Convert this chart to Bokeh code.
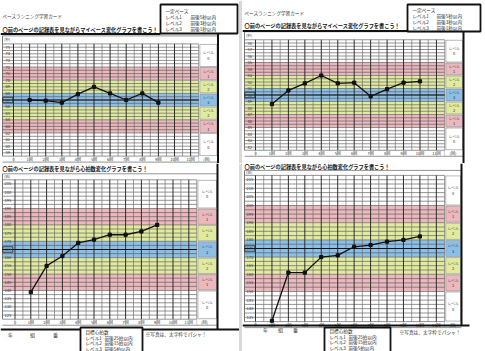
from bokeh.plotting import figure
from bokeh.layouts import row, column
from bokeh.models import Range1d
from bokeh.core.properties import value
from bokeh.embed import file_html
from bokeh.resources import INLINE

FONT = "Noto Sans CJK JP"

# ---------------- data ----------------
x_tick_labels = ["0", "1回", "2回", "3回", "4回", "5回", "6回", "7回", "8回", "9回", "10回", "11回", "(回)"]
x_tick_pos = [0, 1, 2, 3, 4, 5, 6, 7, 8, 9, 10, 11, 12]
level_names = ["0", "1", "2", "3", "2", "1", "0"]

page_title = "ペースランニング学習カード"
pace_heading = "〇前のページの記録表を見ながらマイペース変化グラフを書こう！"
hr_heading = "〇前のページの記録表を見ながら心拍数変化グラフを書こう！"
pace_box_lines = ["一定ペース", "レベル1　前後5秒以内", "レベル2　前後3秒以内", "レベル3　前後1秒以内"]
hr_box_lines = ["目標心拍数", "レベル1　前後25拍以内", "レベル2　前後15拍以内", "レベル3　前後5拍以内"]
name_fields = ["年", "組", "番"]
photo_note = "※写真は、太字枠でパシャ！"

pace_levels = [1, 3, 5]      # ± seconds (level 3, 2, 1)
hr_levels = [5, 15, 25]      # ± beats  (level 3, 2, 1)

# left sheet – pace (seconds per lap)
pace_rounds_left = [1, 2, 3, 4, 5, 6, 7, 8, 9]
pace_left = [67.0, 66.9, 66.6, 67.9, 69.0, 68.0, 67.0, 68.0, 66.6]
pace_target_left = 67
pace_ticks_left = [59, 60, 61, 62, 63, 64, 65, 66, 67, 68, 69, 70, 71, 72, 73, 74, 75]

# right sheet – pace
pace_rounds_right = [1, 2, 3, 4, 5, 6, 7, 8, 9, 10]
pace_right = [48.6, 50.7, 51.8, 53.0, 51.8, 51.9, 49.8, 50.9, 51.9, 52.1]
pace_target_right = 50
pace_ticks_right = [42, 43, 44, 45, 46, 47, 48, 49, 50, 51, 52, 53, 54, 55, 56, 57, 58]

# left sheet – heart rate (beats)
hr_rounds_left = [1, 2, 3, 4, 5, 6, 7, 8, 9]
hr_left = [139, 155, 161, 169, 171, 174, 174, 176, 180]
hr_target_left = 165
hr_ticks_left = [125, 130, 135, 140, 145, 150, 155, 160, 165, 170, 175, 180, 185, 190, 195, 200, 205]

# right sheet – heart rate
hr_rounds_right = [1, 2, 3, 4, 5, 6, 7, 8, 9, 10]
hr_right = [133, 161, 161, 170, 171, 176, 177, 179, 180, 182]
hr_target_right = 175
hr_ticks_right = [135, 140, 145, 150, 155, 160, 165, 170, 175, 180, 185, 190, 195, 200, 205, 210, 215]

PINK = "#eab8bd"
YELLOW = "#e1eb9f"
BLUE = "#8cbfe6"
band_colors = ["white", PINK, YELLOW, BLUE, YELLOW, PINK, "white"]
ROWS = 17


def txt(p, x, y, s, size, align="left", baseline="middle", color="#222", style="normal"):
    p.text(x=[x], y=[y], text=[s], text_font=value(FONT), text_font_size=size,
           text_align=align, text_baseline=baseline, text_color=color,
           text_font_style=style)


def make_panel(W, H, g, unit, target, levels, yticks, rounds, vals, unit_label):
    x0, dx, yc, ry = g["x0"], g["dx"], g["yc"], g["ry"]
    xs = -x0 / dx
    xe = (W - x0) / dx
    yt = target + yc / ry * unit
    yb = target - (H - yc) / ry * unit

    def PX(px):
        return xs + px / dx

    def PY(py):
        return yt - py / ry * unit

    def DX(px):
        return px / dx

    def DY(py):
        return py / ry * unit

    p = figure(width=W, height=H, x_range=Range1d(xs, xe), y_range=Range1d(yb, yt),
               output_backend="svg", toolbar_location=None, min_border=0,
               outline_line_color=None, background_fill_color="white",
               border_fill_color="white")
    p.axis.visible = False
    p.grid.visible = False

    half = ROWS * unit
    top, bot = target + half, target - half
    gl, gr = PX(g["gl"]), 11.5
    edges = [half, levels[2], levels[1], levels[0], -levels[0], -levels[1], -levels[2], -half]
    btop = [target + edges[i] for i in range(7)]
    bbot = [target + edges[i + 1] for i in range(7)]

    # colour bands
    p.quad(left=gl, right=gr, top=btop, bottom=bbot, fill_color=band_colors, line_color=None)

    # horizontal rows
    ys = [target + k * unit for k in range(-ROWS, ROWS + 1)]
    p.segment(x0=gl, y0=ys, x1=gr, y1=ys, line_color="#5a5a5a", line_width=0.65)
    # vertical lines
    minor = [i + 0.5 for i in range(12)]
    major = list(range(12))
    p.segment(x0=minor, y0=bot, x1=minor, y1=top, line_color="#6a6a6a", line_width=0.65)
    p.segment(x0=major, y0=bot, x1=major, y1=top, line_color="#262626", line_width=0.95)
    p.segment(x0=[gl], y0=bot, x1=[gl], y1=top + DY(g["hdr"]), line_color="#555", line_width=0.8)
    # target line
    p.segment(x0=[gl], y0=[target], x1=[gr], y1=[target], line_color="#111", line_width=1.2)
    # header row line
    p.segment(x0=[gl], y0=[top + DY(g["hdr"])], x1=[PX(g["rb"])], y1=[top + DY(g["hdr"])],
              line_color="#666", line_width=0.7)

    # level column
    lcl, lcr = 11.5 + DX(1.2), PX(g["rb"]) - DX(1.0)
    p.quad(left=lcl, right=lcr, top=[t - DY(0.5) for t in btop], bottom=[b + DY(0.5) for b in bbot],
           fill_color=band_colors, line_color="#888", line_width=0.6)
    lc = (lcl + lcr) / 2
    for i in range(7):
        cy = (btop[i] + bbot[i]) / 2
        txt(p, lc, cy + DY(2.6), "レベル", "3.6px", align="center", color="#444")
        txt(p, lc, cy - DY(2.6), level_names[i], "4px", align="center", color="#333")

    # y labels (handwritten column)
    ylx = PX(g["gl"] + 5.3)
    p.text(x=ylx, y=yticks, text=[str(t) for t in yticks],
           text_font=value(FONT), text_font_size="4px", text_align="center",
           text_baseline="middle", text_color="#3a3a3a")
    p.rect(x=[ylx], y=[target], width=DX(10), height=DY(5.5), fill_color=None,
           line_color="#222", line_width=0.8)
    txt(p, PX(g["gl"] + 1.5), top + DY(g["hdr"] / 2), unit_label, "3.8px", color="#444")

    # x labels row
    p.text(x=x_tick_pos, y=bot - DY(3.0), text=x_tick_labels, text_font=value(FONT),
           text_font_size="4px", text_align="center", text_baseline="middle", text_color="#333")
    p.segment(x0=[gl], y0=[bot - DY(6)], x1=[PX(g["rb"])], y1=[bot - DY(6)],
              line_color="#666", line_width=0.7)
    p.segment(x0=major + [11.5], y0=bot, x1=major + [11.5], y1=bot - DY(6),
              line_color="#999", line_width=0.5)

    # data
    p.line(x=rounds, y=vals, line_color="#111", line_width=1.3)
    p.scatter(x=rounds, y=vals, marker="square", size=3.2, fill_color="#111", line_color="#111")
    return p, PX, PY


def thick(p, xa, ya, xb, yb_, w=2.0):
    p.line(x=[xa, xb], y=[ya, yb_], line_color="#111", line_width=w)


def info_box(p, PX, PY, l, t, r, b, lines, y0, step, split):
    p.quad(left=[PX(l)], right=[PX(r)], top=[PY(t)], bottom=[PY(b)], fill_color="white",
           line_color="#111", line_width=1.8)
    for i, s in enumerate(lines):
        if i == 0:
            txt(p, PX(l + 5), PY(y0), s, "4.6px", color="#222")
        else:
            a, c = s.split("　")
            txt(p, PX(l + 5), PY(y0 + i * step), a, "4.6px", color="#222")
            txt(p, PX(l + split), PY(y0 + i * step), c, "4.6px", color="#222")


# ---------------- panels ----------------
TL_G = dict(x0=13, dx=16.1, yc=99.5, ry=3.3, gl=2, rb=217.5, hdr=8)
TR_G = dict(x0=13, dx=16.45, yc=94.5, ry=3.25, gl=2, rb=221, hdr=8)
BL_G = dict(x0=14.5, dx=15.8, yc=86, ry=4.1, gl=2, rb=217, hdr=6)
BR_G = dict(x0=13, dx=16.44, yc=85, ry=4.3, gl=2, rb=219, hdr=5)

# top-left
tl, PX, PY = make_panel(242, 163, TL_G, 0.5, pace_target_left, pace_levels, pace_ticks_left,
                        pace_rounds_left, pace_left, "(秒)")
txt(tl, PX(2), PY(15), page_title, "4.6px", color="#333")
txt(tl, PX(2), PY(28.5), pace_heading, "5.2px", color="#111", style="bold")
thick(tl, PX(0), PY(33.5), PX(160), PY(33.5))
thick(tl, PX(217.5), PY(33.5), PX(217.5), PY(163))
info_box(tl, PX, PY, 160, 4, 237, 33, pace_box_lines, 10, 6, 30)
tl.quad(left=[PX(238.5)], right=[PX(242)], top=[PY(0)], bottom=[PY(163)], fill_color="#d9d9d9", line_color=None)

# top-right
tr, PX, PY = make_panel(243, 163, TR_G, 0.5, pace_target_right, pace_levels, pace_ticks_right,
                        pace_rounds_right, pace_right, "(秒)")
txt(tr, PX(2), PY(12.5), page_title, "4.6px", color="#333")
txt(tr, PX(2), PY(25), pace_heading, "5.2px", color="#111", style="bold")
thick(tr, PX(0), PY(30.5), PX(165), PY(30.5))
thick(tr, PX(221), PY(30.5), PX(221), PY(163))
info_box(tr, PX, PY, 165, 4, 238, 31, pace_box_lines, 9.5, 6, 29)

# bottom-left
bl, PX, PY = make_panel(242, 188, BL_G, 2.5, hr_target_left, hr_levels, hr_ticks_left,
                        hr_rounds_left, hr_left, "(拍)")
txt(bl, PX(2), PY(4.5), hr_heading, "5.2px", color="#111", style="bold")
thick(bl, PX(217), PY(0), PX(217), PY(166))
thick(bl, PX(0), PY(166), PX(240), PY(166))
for nx, s in zip([10, 32, 55], name_fields):
    txt(bl, PX(nx), PY(171), s, "5px", align="center", color="#333")
info_box(bl, PX, PY, 80, 164, 142, 190, hr_box_lines, 168.8, 5.4, 24)
txt(bl, PX(145), PY(170), photo_note, "4.7px", color="#333")
bl.quad(left=[PX(238.5)], right=[PX(242)], top=[PY(0)], bottom=[PY(188)], fill_color="#d9d9d9", line_color=None)

# bottom-right
br, PX, PY = make_panel(243, 188, BR_G, 2.5, hr_target_right, hr_levels, hr_ticks_right,
                        hr_rounds_right, hr_right, "(拍)")
txt(br, PX(2), PY(2.5), hr_heading, "5.2px", color="#111", style="bold")
thick(br, PX(219), PY(0), PX(219), PY(162))
thick(br, PX(0), PY(162), PX(227), PY(162))
for nx, s in zip([23, 38, 53], name_fields):
    txt(br, PX(nx), PY(166), s, "5px", align="center", color="#333")
info_box(br, PX, PY, 82, 164, 148, 190, hr_box_lines, 167.5, 5.6, 24)
txt(br, PX(157), PY(168.5), photo_note, "4.7px", color="#333")

layout = column(row(tl, tr), row(bl, br))
open("out.html", "w").write(file_html(layout, INLINE))
